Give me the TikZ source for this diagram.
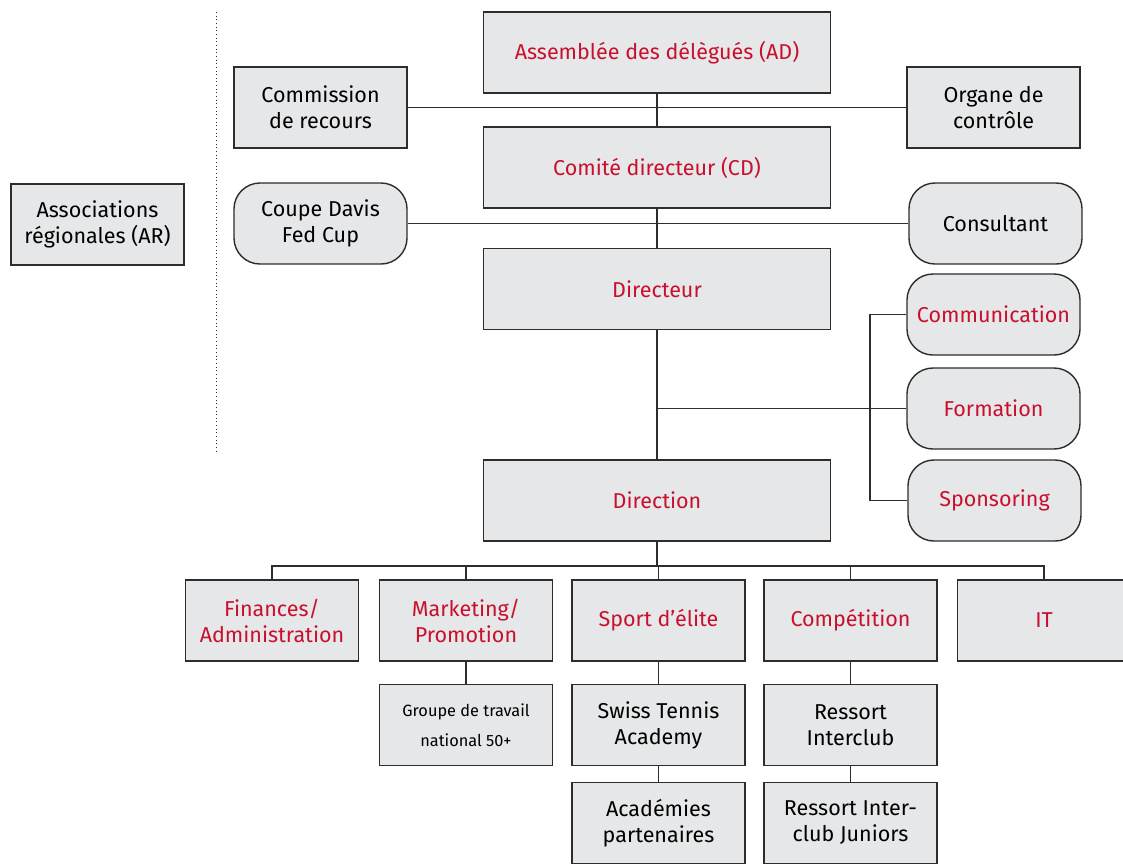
\documentclass[tikz,border=0pt]{standalone}
\usepackage{fontspec}
\setmainfont{Fira Sans}
\definecolor{boxfill}{RGB}{230,231,232}
\definecolor{boxline}{RGB}{45,45,45}
\definecolor{textred}{RGB}{200,16,46}

\begin{document}
\begin{tikzpicture}[x=0.025cm, y=-0.025cm, line width=0.8pt, color=boxline,
        every node/.style={draw=boxline, fill=boxfill, text=black, align=center,
        line width=1pt, inner sep=2pt, font=\fontsize{15.3}{18.5}\selectfont},
        wide/.style={minimum width=8.675cm, minimum height=2.025cm},
        small/.style={minimum width=4.325cm, minimum height=2.025cm},
        roundbox/.style={small, rounded corners=0.65cm},
        hl/.style={text=textred}
        ]
    \useasboundingbox (0,0) rectangle (1123,864);
    % left part
    \node[small] (b_ar) at (97.5, 224.5) {Associations\\régionales (AR)};
    \draw[dotted, line width=0.6pt] (216,12) -- (216,452);

    % top column
    \node[wide, hl] (b_ad) at (657, 52.5) {Assemblée des délègués (AD)};
    \node[small] (b_cr) at (320.5, 107.5) {Commission\\de recours};
    \node[small] (b_oc) at (993.5, 107.5) {Organe de\\contrôle};
    \node[wide, hl] (b_cd) at (657, 167.5) {Comité directeur (CD)};
    \node[roundbox] (b_cdfc) at (320.5, 223.5) {Coupe Davis\\Fed Cup};
    \node[roundbox] (b_cons) at (995.5, 223.5) {Consultant};
    \node[wide, hl] (b_dir) at (657, 289) {Directeur};
    \node[roundbox, hl] (b_com) at (993.5, 314.5) {Communication};
    \node[roundbox, hl] (b_form) at (993.5, 408.5) {Formation};
    \node[roundbox, hl] (b_spon) at (994.5, 500.5) {Sponsoring};
    \node[wide, hl] (b_dirn) at (657, 500.5) {Direction};

    % departments
    \node[small, hl] (b_fin) at (272, 620.5) {Finances/\\Administration};
    \node[small, hl] (b_mkt) at (466, 620.5) {Marketing/\\Promotion};
    \node[small, hl] (b_sport) at (658.5, 620.5) {Sport d’élite};
    \node[small, hl] (b_comp) at (850.5, 620.5) {Compétition};
    \node[small, hl] (b_it) at (1044, 620.5) {IT};
    \node[small, font=\fontsize{11.6}{21}\selectfont] (b_grp) at (466, 725) {Groupe de travail\\national 50+};
    \node[small] (b_sta) at (658.5, 725) {Swiss Tennis\\Academy};
    \node[small] (b_ric) at (850.5, 725) {Ressort\\Interclub};
    \node[small] (b_acad) at (658.5, 823) {Académies\\partenaires};
    \node[small] (b_ricj) at (850.5, 823) {Ressort Inter-\\club Juniors};

    \coordinate (bus) at (657, 566);
    \coordinate (brk) at (870, 0);

    \draw (b_ad) -- (b_cd);
    \draw (b_cr) -- (b_oc);
    \draw (b_cd) -- (b_dir);
    \draw (b_cdfc) -- (b_cons);
    \draw (b_dir) -- (b_dirn);
    \draw (b_form.west) -- (b_form.west -| b_dir.south);
    \draw (b_com.west) -- (b_com.west -| brk) -- (b_spon.west -| brk) -- (b_spon.west);
    \draw (b_dirn.south) -- (bus);
    \foreach \n in {b_fin, b_mkt, b_sport, b_comp, b_it}
        \draw (\n.north) -- (\n.north |- bus) -- (bus);
    \draw (b_mkt) -- (b_grp);
    \draw (b_sport) -- (b_sta);
    \draw (b_sta) -- (b_acad);
    \draw (b_comp) -- (b_ric);
    \draw (b_ric) -- (b_ricj);
\end{tikzpicture}
\end{document}
